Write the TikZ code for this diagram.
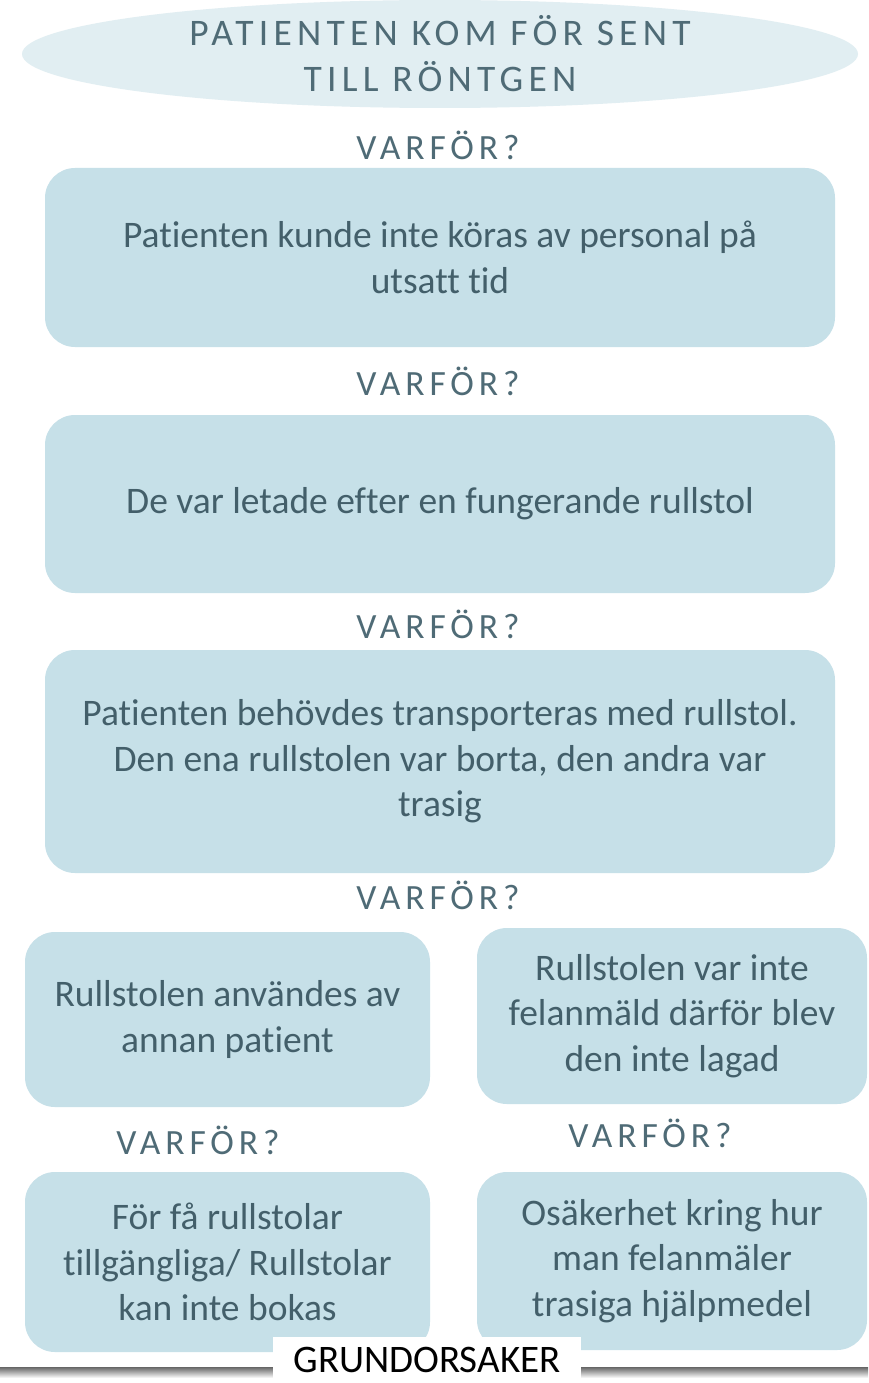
\documentclass[tikz,border=0pt]{standalone}
\usepackage{fontspec}
\setmainfont[Ligatures=NoCommon]{Carlito}
\newfontfamily\spacedfont[LetterSpace=14,Ligatures=NoCommon]{Carlito}
\usetikzlibrary{shapes.geometric}
\definecolor{boxfill}{HTML}{C6E0E8}
\definecolor{ellfill}{HTML}{E1EEF2}
\definecolor{txt}{HTML}{435F6A}
\definecolor{txtlight}{HTML}{4F6B76}
\tikzset{
  cause/.style={rectangle, rounded corners=30pt, fill=boxfill, text=txt,
    align=center, inner sep=0pt, font=\fontsize{37.5}{45.5}\selectfont},
  why/.style={text=txtlight, inner sep=0pt, font=\spacedfont\fontsize{35.5}{40}\selectfont},
  topic/.style={ellipse, fill=ellfill, text=txtlight, align=center, inner sep=0pt,
    font=\spacedfont\fontsize{37.5}{46}\selectfont},
  rootlabel/.style={text=black, inner sep=0pt,
    font=\fontsize{39}{43}\selectfont}
}
\begin{document}
\begin{tikzpicture}[x=1pt,y=-1pt]
\useasboundingbox (0,0) rectangle (868,1383);
\fill[white] (0,0) rectangle (868,1383);
% top problem
\node[topic, minimum width=836pt, minimum height=108pt] (top) at (440,54)
  {PATIENTEN KOM FÖR SENT\\TILL RÖNTGEN};
\node[why] (w1) at (438,145) {VARFÖR?};
\node[cause, minimum width=790pt, minimum height=179pt] (b1) at (440,257.5)
  {Patienten kunde inte köras av personal på\\utsatt tid};
\node[why] (w2) at (438,381) {VARFÖR?};
\node[cause, minimum width=790pt, minimum height=178pt] (b2) at (440,504)
  {De var letade efter en fungerande rullstol};
\node[why] (w3) at (438,624) {VARFÖR?};
\node[cause, minimum width=790pt, minimum height=223pt] (b3) at (440,761.5)
  {Patienten behövdes transporteras med rullstol.\\Den ena rullstolen var borta, den andra var\\trasig};
\node[why] (w4) at (438,895) {VARFÖR?};
\node[cause, minimum width=405pt, minimum height=175pt] (b4) at (227.5,1019.5)
  {Rullstolen användes av\\annan patient};
\node[cause, minimum width=390pt, minimum height=176pt] (b5) at (672,1016)
  {Rullstolen var inte\\felanmäld därför blev\\den inte lagad};
\node[why] (w5) at (198,1140) {VARFÖR?};
\node[why] (w6) at (650,1133) {VARFÖR?};
\node[cause, minimum width=405pt, minimum height=180pt] (b6) at (227.5,1262)
  {För få rullstolar\\tillgängliga/ Rullstolar\\kan inte bokas};
\node[cause, minimum width=390pt, minimum height=178pt] (b7) at (672,1261)
  {Osäkerhet kring hur\\man felanmäler\\trasiga hjälpmedel};
% root-cause baseline with shadow
\shade[top color=black!60, bottom color=white] (0,1367) rectangle (868,1378);
\fill[white] (273,1337) rectangle (581,1383);
\node[rootlabel] (root) at (427,1360) {GRUNDORSAKER};
\end{tikzpicture}
\end{document}
